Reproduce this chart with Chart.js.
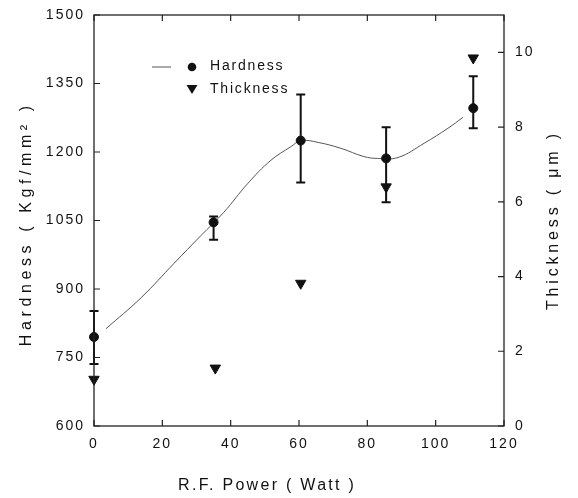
<!DOCTYPE html>
<html><head><meta charset="utf-8">
<script src="https://cdn.jsdelivr.net/npm/chart.js@4.4.0/dist/chart.umd.min.js"></script>
<style>html,body{margin:0;padding:0;background:#fff}canvas{display:block}</style>
</head><body>
<canvas id="c" width="578" height="498"></canvas>
<script>
// ---- data ----
const power       = [0, 35, 60.5, 85.5, 111];
const hardness    = [795, 1046, 1225, 1186, 1296];
const hardHigh    = [852, 1059, 1326, 1254, 1366];
const hardLow     = [736, 1008, 1133, 1090, 1252];
const thickPower  = [0, 35.5, 60.5, 85.5, 111];
const thickness   = [1.25, 1.55, 3.82, 6.4, 9.85];
const curvePower  = [3.5, 13.8, 23.4, 31.3, 38, 45, 51.8, 57.7, 60.6, 65.6, 72.3, 79, 83, 89, 96.6, 103.6, 108];
const curveHard   = [813, 881, 956, 1017, 1068, 1131, 1182, 1212, 1225, 1221, 1208, 1190, 1186, 1188, 1219, 1252, 1276];
const xTicks      = [0, 20, 40, 60, 80, 100, 120];
const leftTicks   = [600, 750, 900, 1050, 1200, 1350, 1500];
const rightTicks  = [0, 2, 4, 6, 8, 10];
const labels = {
  x: 'R.F. Power ( Watt )',
  yLeft: 'Hardness ( Kgf/mm\u00B2 )',
  yRight: 'Thickness ( \u03BCm )',
  hard: 'Hardness',
  thick: 'Thickness'
};

const FONT = '"Liberation Sans", Arial, sans-serif';
const INK = '#111';

const pts = (xs, ys) => xs.map((x, i) => ({x, y: ys[i]}));

// draw text spread to a given length
function spreadText(ctx, text, cx, cy, len) {
  ctx.letterSpacing = '0px';
  const w = ctx.measureText(text).width;
  const sp = Math.max(0, (len - w) / text.length);
  ctx.letterSpacing = sp.toFixed(2) + 'px';
  ctx.fillText(text, cx + sp / 2, cy);
}

const decor = {
  id: 'decor',
  beforeDraw(chart) { chart.ctx.letterSpacing = '2px'; },
  afterDatasetsDraw(chart) {
    const {ctx, chartArea: a, scales} = chart;
    const x = scales.x, yl = scales.y, yr = scales.y2;
    ctx.save();
    // error bars
    ctx.strokeStyle = INK; ctx.lineWidth = 2;
    power.forEach((p, i) => {
      const px = x.getPixelForValue(p);
      const t = yl.getPixelForValue(hardHigh[i]);
      const b = yl.getPixelForValue(hardLow[i]);
      ctx.beginPath();
      ctx.moveTo(px, t); ctx.lineTo(px, b);
      ctx.moveTo(px - 4.5, t); ctx.lineTo(px + 4.5, t);
      ctx.moveTo(px - 4.5, b); ctx.lineTo(px + 4.5, b);
      ctx.stroke();
    });
    // frame
    ctx.lineWidth = 1.3; ctx.strokeStyle = '#222';
    ctx.strokeRect(a.left, a.top, a.right - a.left, a.bottom - a.top);
    // inward ticks
    ctx.lineWidth = 1.2;
    ctx.beginPath();
    xTicks.forEach(v => {
      const px = x.getPixelForValue(v);
      ctx.moveTo(px, a.bottom); ctx.lineTo(px, a.bottom - 6);
      ctx.moveTo(px, a.top); ctx.lineTo(px, a.top + 6);
    });
    leftTicks.forEach(v => {
      const py = yl.getPixelForValue(v);
      ctx.moveTo(a.left, py); ctx.lineTo(a.left + 6, py);
    });
    rightTicks.forEach(v => {
      const py = yr.getPixelForValue(v);
      ctx.moveTo(a.right, py); ctx.lineTo(a.right - 6, py);
    });
    ctx.stroke();
    // legend
    ctx.fillStyle = INK; ctx.strokeStyle = '#555'; ctx.lineWidth = 1;
    ctx.beginPath(); ctx.moveTo(152, 67); ctx.lineTo(171, 67); ctx.stroke();
    ctx.beginPath(); ctx.arc(192, 67, 4.3, 0, Math.PI * 2); ctx.fill();
    ctx.beginPath(); ctx.moveTo(186.5, 85); ctx.lineTo(197.5, 85); ctx.lineTo(192, 94); ctx.closePath(); ctx.fill();
    ctx.font = '14px ' + FONT; ctx.textBaseline = 'middle'; ctx.textAlign = 'left';
    ctx.letterSpacing = '1.8px';
    ctx.fillText(labels.hard, 210, 66);
    ctx.fillText(labels.thick, 210, 89);
    // axis titles
    ctx.font = '16px ' + FONT;
    ctx.textAlign = 'center';
    spreadText(ctx, labels.x, 266, 486, 178);
    ctx.save(); ctx.translate(27, 226); ctx.rotate(-Math.PI / 2);
    spreadText(ctx, labels.yLeft, 0, 0, 245); ctx.restore();
    ctx.save(); ctx.translate(554, 222); ctx.rotate(-Math.PI / 2);
    spreadText(ctx, labels.yRight, 0, 0, 180); ctx.restore();
    ctx.restore();
  }
};

const tickCfg = (pad) => ({ color: INK, font: { family: FONT, size: 14 }, padding: pad, maxRotation: 0,
  callback: v => String(v) });

new Chart(document.getElementById('c'), {
  type: 'scatter',
  data: {
    datasets: [
      { label: 'fit', data: pts(curvePower, curveHard), showLine: true, tension: 0.4,
        borderColor: '#555', borderWidth: 1, pointRadius: 0, yAxisID: 'y', order: 3, clip: false },
      { label: labels.hard, data: pts(power, hardness), pointStyle: 'circle', pointRadius: 4.5,
        backgroundColor: INK, borderColor: INK, yAxisID: 'y', order: 1, clip: false },
      { label: labels.thick, data: pts(thickPower, thickness), pointStyle: 'triangle', rotation: 180,
        pointRadius: 6, backgroundColor: INK, borderColor: INK, yAxisID: 'y2', order: 2, clip: false }
    ]
  },
  options: {
    responsive: false, animation: false, devicePixelRatio: 1,
    layout: { padding: { top: 15, left: 0, right: 0, bottom: 0 } },
    plugins: { legend: { display: false }, tooltip: { enabled: false } },
    scales: {
      x: { type: 'linear', min: 0, max: 120,
        afterBuildTicks: s => { s.ticks = xTicks.map(v => ({value: v})); },
        afterFit: s => { s.height = 72; s.paddingLeft = 0; s.paddingRight = 0; },
        grid: { display: false, drawTicks: false }, border: { display: false },
        ticks: tickCfg(10) },
      y: { type: 'linear', position: 'left', min: 600, max: 1500,
        afterBuildTicks: s => { s.ticks = leftTicks.map(v => ({value: v})); },
        afterFit: s => { s.width = 94; s.paddingTop = 0; s.paddingBottom = 0; },
        grid: { display: false, drawTicks: false }, border: { display: false },
        ticks: tickCfg(9) },
      y2: { type: 'linear', position: 'right', min: 0, max: 11,
        afterBuildTicks: s => { s.ticks = rightTicks.map(v => ({value: v})); },
        afterFit: s => { s.width = 74; s.paddingTop = 0; s.paddingBottom = 0; },
        grid: { display: false, drawTicks: false }, border: { display: false },
        ticks: tickCfg(11) }
    }
  },
  plugins: [decor]
});
</script>
</body></html>
